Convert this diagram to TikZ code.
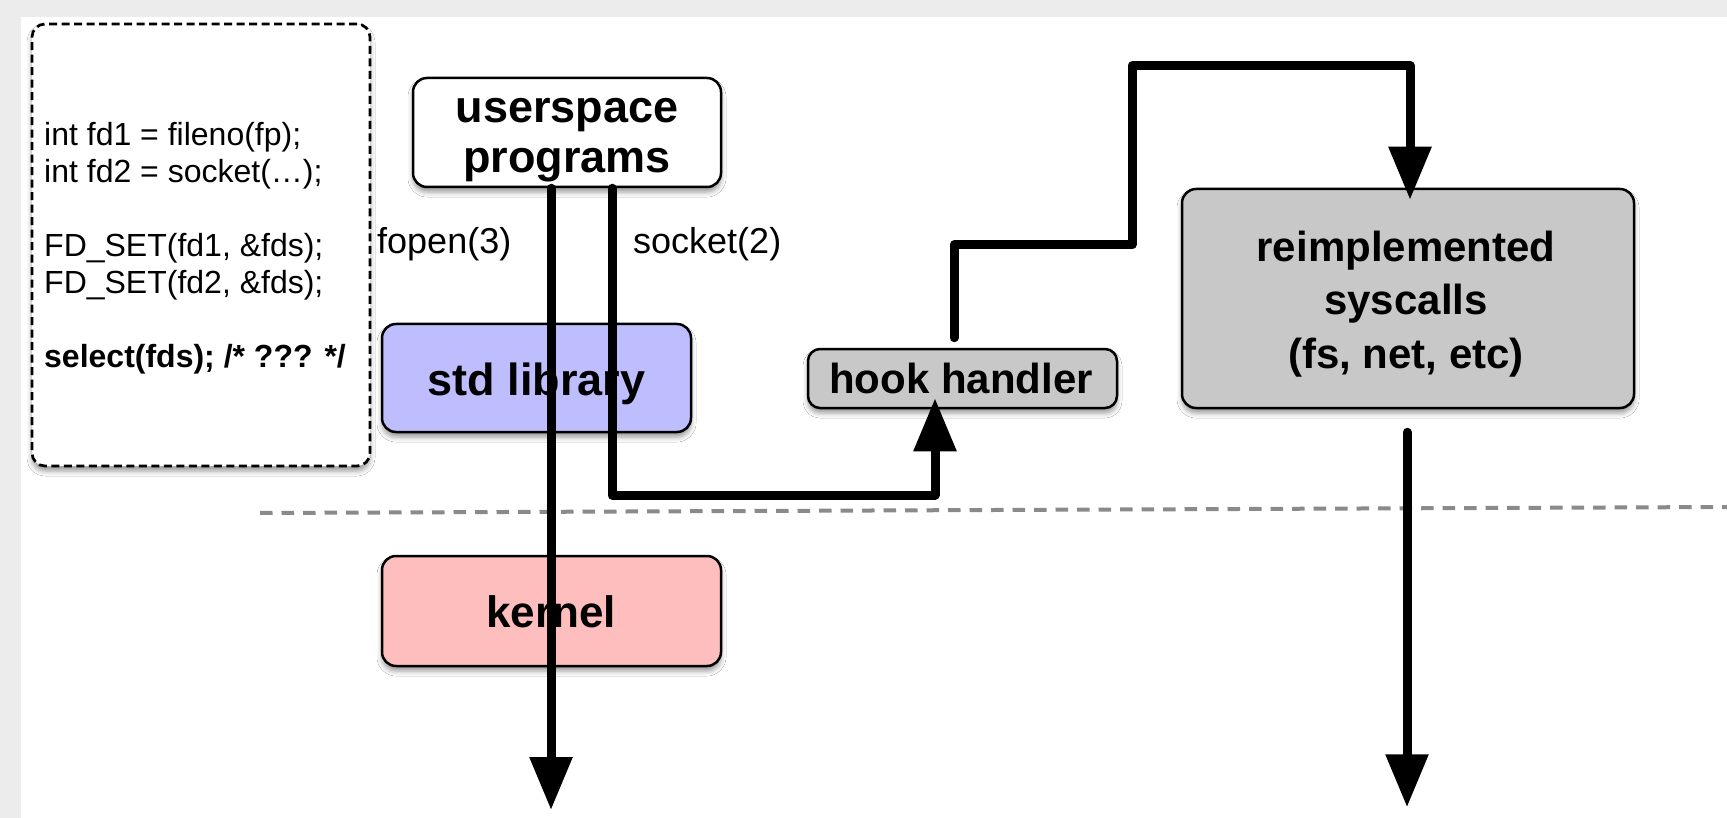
\documentclass[tikz,border=0pt]{standalone}
\usepackage{fontspec}
\setmainfont{Liberation Sans}
\usetikzlibrary{arrows.meta,calc,shadows.blur}

\definecolor{libfill}{RGB}{190,190,255}
\definecolor{kernfill}{RGB}{255,190,190}
\definecolor{hookfill}{RGB}{200,200,200}
\definecolor{pagegray}{RGB}{236,236,236}
\definecolor{sepgray}{RGB}{138,138,138}

\begin{document}
\begin{tikzpicture}[x=1pt,y=-1pt,
  box/.style={draw=black, line width=2.5pt, rounded corners=14pt, inner sep=0pt,
    blur shadow={shadow xshift=0pt, shadow yshift=-5pt, shadow blur radius=5pt, shadow opacity=40}},
  boxlabel/.style={anchor=base, font=\bfseries\fontsize{45}{50}\selectfont},
  smalllabel/.style={anchor=base, font=\bfseries\fontsize{42}{53}\selectfont},
  codeline/.style={anchor=base west, inner sep=0pt, font=\fontsize{32}{37}\selectfont},
  calllabel/.style={anchor=base west, inner sep=0pt, font=\fontsize{36}{40}\selectfont},
  flow/.style={line width=9pt, line cap=round, line join=round},
  flowarrow/.style={flow, -{Triangle[length=53pt, width=41pt]}},
]
% page and canvas
\useasboundingbox (0,0) rectangle (1727,818);
\fill[pagegray] (0,0) rectangle (1727,818);
\fill[white] (21,17) rectangle (1727,818);

% code snippet box
\node[box, fill=white, line width=2.7pt, dash pattern=on 8pt off 4.5pt, rounded corners=13pt,
      minimum width=338pt, minimum height=442pt] (code) at (201,245) {};
\node[codeline] (c1) at (44,146) {int fd1 = fileno(fp);};
\node[codeline] (c2) at (44,183) {int fd2 = socket(…);};
\node[codeline] (c3) at (44,257) {FD\_SET(fd1, \&fds);};
\node[codeline] (c4) at (44,294) {FD\_SET(fd2, \&fds);};
\node[codeline, font=\bfseries\fontsize{32}{37}\selectfont] (c5) at (44,367) {select(fds); /* ??? */};

% component boxes
\node[box, fill=white, minimum width=308pt, minimum height=109pt] (user) at (567,132.5) {};
\node[box, fill=libfill, minimum width=309pt, minimum height=108pt] (lib) at (536.5,378) {};
\node[box, fill=kernfill, minimum width=339pt, minimum height=110pt] (kern) at (551.5,611) {};
\node[box, fill=hookfill, rounded corners=12pt, minimum width=309pt, minimum height=59pt] (hook) at (962.5,378.5) {};
\node[box, fill=hookfill, minimum width=452pt, minimum height=219pt] (sys) at (1408,298.5) {};

% box labels
\node[boxlabel] (userA) at (567,123) {userspace};
\node[boxlabel] (userB) at (567,173) {programs};
\node[boxlabel] (libT) at (536.5,395) {std library};
\node[boxlabel, font=\bfseries\fontsize{44}{50}\selectfont] (kernT) at (551,627) {kernel};
\node[smalllabel] (hookT) at (961,393) {hook handler};
\node[smalllabel] (sysA) at (1406,262) {reimplemented};
\node[smalllabel] (sysB) at (1406,315) {syscalls};
\node[smalllabel] (sysC) at (1406,368) {(fs, net, etc)};

% call labels
\node[calllabel] (fopenL) at (377,254) {fopen(3)};
\node[calllabel] (socketL) at (633,254) {socket(2)};

% user/kernel boundary
\draw[sepgray, line width=4pt, dash pattern=on 12.5pt off 9pt] (260,513) -- (1727,507);

% call paths
\coordinate (fopenEnd) at (551,810);
\coordinate (sockTurn) at (612,495);
\draw[flowarrow] (user.south -| fopenEnd) -- (fopenEnd);
\draw[flowarrow] (user.south -| sockTurn) -- (sockTurn) -| ($(hook.south)+(-27.5,-11)$);
\draw[flowarrow] ($(hook.north)+(-8.5,-10)$) -- ++(0,-93) -- ++(178,0) -- ++(0,-179) -- ++(278,0)
  -- ($(sys.north)+(2,12)$);
\draw[flowarrow] ($(sys.south)+(-1,23)$) -- ++(0,375);
\end{tikzpicture}
\end{document}
